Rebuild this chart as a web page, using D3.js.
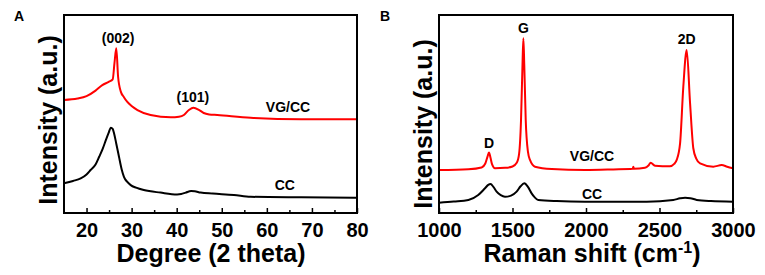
<!DOCTYPE html>
<html>
<head>
<meta charset="utf-8">
<script src="https://cdn.jsdelivr.net/npm/d3@7"></script>
<style>
  body { margin: 0; background: #fff; }
  text { font-family: "Liberation Sans", Arial, sans-serif; font-weight: bold; }
</style>
</head>
<body>
<div id="vis"></div>
<script>
// Datos (intensidad en unidades arbitrarias, 0-100)

// Panel A: XRD, [2 theta, intensidad]
const xrdVG = [
  [15, 57.1], [18, 57.8], [20, 59], [22, 61.8], [23.5, 64.6], [25, 66.3], [25.8, 67.5],
  [26.2, 75.8], [26.6, 83.2], [27.0, 68.8], [27.6, 61.3], [28.3, 58.5], [29, 56.2],
  [30, 54], [31.3, 52.0], [34.2, 49.5], [38.7, 48.3], [40.5, 48.6], [41.6, 49.5],
  [42.7, 52.0], [43.7, 53.2], [45, 52.0], [46, 50.5], [47.2, 49.8], [49, 49.5],
  [56.4, 48.1], [67.6, 47.3], [80, 47.3]
];
const xrdCC = [
  [15, 15.0], [17, 16.2], [18.7, 17.5], [20, 19.5], [20.9, 21.7], [22, 24.5], [22.8, 28.4],
  [23.6, 32.5], [24.3, 36.9], [24.9, 40.5], [25.4, 43.1], [25.8, 42.5], [26.1, 40.3],
  [26.6, 35], [27.2, 28.4], [27.8, 22], [28.3, 18.3], [29, 15.8], [29.8, 14.1], [31, 12.8],
  [32.7, 11.6], [36.4, 10.3], [40.1, 9.4], [41, 9.6], [42, 10.3], [43.2, 11.1], [44, 11],
  [45.3, 10.3], [48, 9.8], [52.7, 9.1], [56.4, 8.2], [67.6, 7.9], [80, 7.7]
];

// Panel B: Raman, [desplazamiento, intensidad]
const ramanVG = [
  [1000, 21.7], [1200, 22.1], [1290, 23], [1315, 25], [1330, 28.5], [1340, 30.5], [1350, 28],
  [1360, 24.8], [1381, 22.6], [1450, 22.8], [1500, 23.5], [1530, 25.5], [1545, 30],
  [1558, 47], [1568, 75], [1574, 88.2], [1580, 75], [1590, 47], [1605, 31], [1619, 26.8],
  [1653, 23.4], [1767, 22.2], [1993, 21.7], [2186, 22.0], [2318, 22.3], [2322, 23.4],
  [2326, 22.3], [2401, 22.8], [2425, 24], [2440, 25.4], [2469, 23.9], [2571, 23.6],
  [2600, 24.8], [2617, 26.8], [2640, 35.2], [2662, 63.8], [2685, 82.3], [2708, 55.4],
  [2730, 32.7], [2750, 27.5], [2776, 25.1], [2866, 23.4], [2923, 24.2], [2960, 23.4], [3000, 22.6]
];
const ramanCC = [
  [1000, 5.2], [1100, 5.8], [1200, 6.6], [1267, 9.1], [1313, 12.5], [1335, 14.2], [1351, 14.6],
  [1370, 13.2], [1392, 10.8], [1420, 9], [1449, 8.2], [1490, 8.8], [1528, 10.8], [1555, 13.5],
  [1580, 15.0], [1605, 13.2], [1630, 9.9], [1650, 8], [1675, 6.6], [1800, 6.0], [1993, 5.7],
  [2413, 5.7], [2594, 6.6], [2640, 7.4], [2674, 7.7], [2710, 7.5], [2753, 6.6], [2850, 6.0],
  [3000, 5.7]
];

// Ticks
const ticksA = [20, 30, 40, 50, 60, 70, 80];
const minorA = [25, 35, 45, 55, 65, 75];
const ticksB = [1000, 1500, 2000, 2500, 3000];
const minorB = [1250, 1750, 2250, 2750];

// Etiquetas de picos y series [x, intensidad, texto]
const labelsA = [[27.0, 86, "(002)"], [43.6, 56, "(101)"]];
const labelsB = [[1340, 33, "D"], [1574, 91, "G"], [2685, 85.5, "2D"]];
const seriesA = [[64.7, 51, "VG/CC"], [64, 11.6, "CC"]];
const seriesB = [[2041, 26.3, "VG/CC"], [2041, 7.1, "CC"]];

const WIDTH = 765;
const HEIGHT = 275;
const RED = "#ff0000";

const SVG = d3.select("#vis").append("svg")
  .attr("width", WIDTH)
  .attr("height", HEIGHT);

function panel(cfg) {
  const x = d3.scaleLinear().domain(cfg.xDomain).range([cfg.left, cfg.right]);
  const y = d3.scaleLinear().domain([0, 100]).range([213, 15]);
  const g = SVG.append("g");

  // ejes (ticks hacia adentro)
  g.append("g")
    .attr("transform", "translate(0,213)")
    .call(d3.axisBottom(x).tickValues(cfg.minor).tickSize(-3).tickFormat(""))
    .call(a => a.select(".domain").remove())
    .selectAll("line").attr("stroke", "#000").attr("stroke-width", 1.5);

  g.append("g")
    .attr("transform", "translate(0,213)")
    .call(d3.axisBottom(x).tickValues(cfg.ticks).tickSize(-5).tickPadding(10).tickFormat(d3.format("d")))
    .call(a => a.select(".domain").remove())
    .call(a => a.selectAll("line").attr("stroke", "#000").attr("stroke-width", 1.5))
    .call(a => a.selectAll("text")
      .attr("font-size", 20)
      .attr("font-family", "Liberation Sans, Arial, sans-serif")
      .attr("font-weight", "bold")
      .attr("fill", "#000"));

  // curvas
  const line = d3.line()
    .x(d => x(d[0]))
    .y(d => y(d[1]))
    .curve(d3.curveMonotoneX);

  g.append("path").datum(cfg.red)
    .attr("d", line).attr("fill", "none")
    .attr("stroke", RED).attr("stroke-width", 2);
  g.append("path").datum(cfg.black)
    .attr("d", line).attr("fill", "none")
    .attr("stroke", "#000").attr("stroke-width", 2);

  // marco
  g.append("rect")
    .attr("x", cfg.left).attr("y", 15)
    .attr("width", cfg.right - cfg.left).attr("height", 198)
    .attr("fill", "none").attr("stroke", "#000").attr("stroke-width", 2);

  // etiquetas
  g.selectAll(".peak").data(cfg.peaks).join("text")
    .attr("x", d => x(d[0])).attr("y", d => y(d[1]))
    .attr("text-anchor", "middle").attr("font-size", 14)
    .text(d => d[2]);
  g.selectAll(".ser").data(cfg.series).join("text")
    .attr("x", d => x(d[0])).attr("y", d => y(d[1]))
    .attr("text-anchor", "middle").attr("font-size", 14)
    .text(d => d[2]);

  // títulos
  const xt = g.append("text")
    .attr("x", cfg.titleX).attr("y", 262)
    .attr("text-anchor", "middle").attr("font-size", 25);
  cfg.xTitle(xt);

  g.append("text")
    .attr("transform", `translate(${cfg.yLabelX},${cfg.yLabelY}) rotate(-90)`)
    .attr("text-anchor", "middle").attr("font-size", 25)
    .text("Intensity (a.u.)");

  g.append("text")
    .attr("x", cfg.letterX).attr("y", 21)
    .attr("font-size", 14)
    .text(cfg.letter);
}

panel({
  xDomain: [15, 80], left: 64, right: 357,
  ticks: ticksA, minor: minorA,
  red: xrdVG, black: xrdCC,
  peaks: labelsA, series: seriesA,
  titleX: 211,
  xTitle: t => t.text("Degree (2 theta)"),
  yLabelX: 57, yLabelY: 120,
  letter: "A", letterX: 14
});

panel({
  xDomain: [1000, 3000], left: 439, right: 733,
  ticks: ticksB, minor: minorB,
  red: ramanVG, black: ramanCC,
  peaks: labelsB, series: seriesB,
  titleX: 592,
  xTitle: t => {
    t.append("tspan").text("Raman shift (cm");
    t.append("tspan").attr("dy", -9).attr("font-size", 16).text("-1");
    t.append("tspan").attr("dy", 9).text(")");
  },
  yLabelX: 432, yLabelY: 124,
  letter: "B", letterX: 380
});
</script>
</body>
</html>
